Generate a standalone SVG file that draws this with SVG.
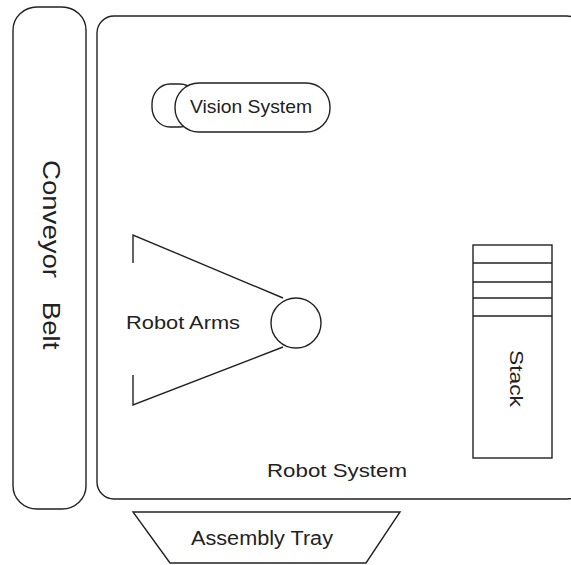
<svg xmlns="http://www.w3.org/2000/svg" width="571" height="565" viewBox="0 0 571 565">
  <style>
    .shape { fill: #fff; stroke: #222; stroke-width: 1.4; }
    .line { fill: none; stroke: #222; stroke-width: 1.4; }
    .label { font-family: "Liberation Sans", Arial, sans-serif; font-size: 19px; fill: #222; }
  </style>
  <rect width="571" height="565" fill="#fff"/>

  <g id="conveyor-belt">
    <rect class="shape" x="13" y="7" width="73" height="502" rx="24" ry="23"/>
    <text class="label" style="font-size:23px; word-spacing:3.5px" xml:space="preserve" transform="translate(43,160) rotate(90) scale(1.2,1)">Conveyor  Belt</text>
  </g>

  <g id="robot-system">
    <rect class="shape" x="97" y="16" width="487" height="483" rx="17" ry="17"/>
    <text class="label" x="267" y="477" textLength="140" lengthAdjust="spacingAndGlyphs">Robot System</text>
  </g>

  <g id="vision-system">
    <rect class="shape" x="152" y="84" width="46" height="43" rx="18" ry="20"/>
    <rect class="shape" x="175" y="83" width="155" height="49" rx="24" ry="24"/>
    <text class="label" x="190" y="113" textLength="122" lengthAdjust="spacingAndGlyphs">Vision System</text>
  </g>

  <g id="robot-arms">
    <polyline class="line" points="133,263 133,235 283,298"/>
    <polyline class="line" points="133,375 133,405 283,347"/>
    <circle class="shape" cx="296" cy="323" r="25"/>
    <text class="label" x="126" y="329" textLength="114" lengthAdjust="spacingAndGlyphs">Robot Arms</text>
  </g>

  <g id="stack">
    <rect class="shape" x="473" y="245" width="79" height="213"/>
    <line class="line" x1="473" y1="263" x2="552" y2="263"/>
    <line class="line" x1="473" y1="282" x2="552" y2="282"/>
    <line class="line" x1="473" y1="298" x2="552" y2="298"/>
    <line class="line" x1="473" y1="316" x2="552" y2="316"/>
    <text class="label" transform="translate(510,350) rotate(90) scale(1.2,1)">Stack</text>
  </g>

  <g id="assembly-tray">
    <polygon class="shape" points="133,512 400,512 366,563 170,563"/>
    <text class="label" style="font-size:20px" x="191" y="545" textLength="142" lengthAdjust="spacingAndGlyphs">Assembly Tray</text>
  </g>

  <g id="connectors"></g>
</svg>
